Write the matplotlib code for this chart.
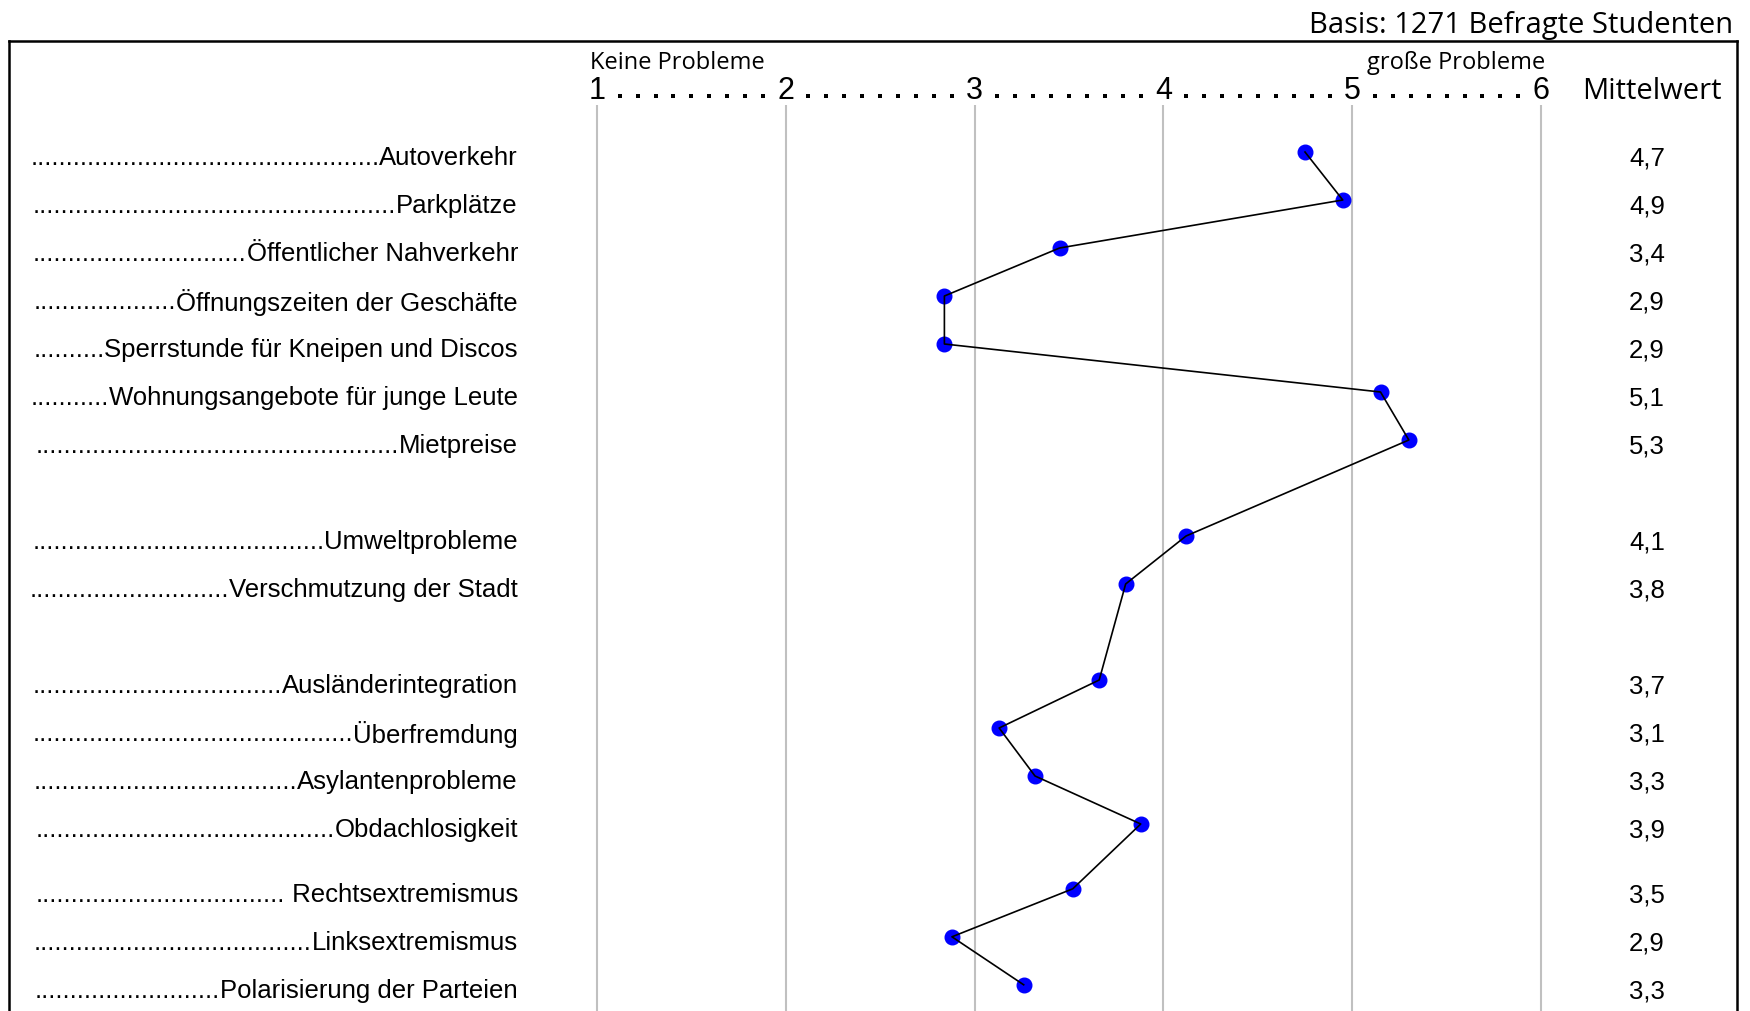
import matplotlib.pyplot as plt
from matplotlib.lines import Line2D

# problem areas and their mean rating (1 = keine Probleme, 6 = große Probleme)
themen = ['Autoverkehr', 'Parkplätze', 'Öffentlicher Nahverkehr',
          'Öffnungszeiten der Geschäfte', 'Sperrstunde für Kneipen und Discos',
          'Wohnungsangebote für junge Leute', 'Mietpreise',
          'Umweltprobleme', 'Verschmutzung der Stadt',
          'Ausländerintegration', 'Überfremdung', 'Asylantenprobleme',
          'Obdachlosigkeit',
          ' Rechtsextremismus', 'Linksextremismus', 'Polarisierung der Parteien']
mittelwert = [4.75, 4.95, 3.45, 2.84, 2.84, 5.15, 5.30,
              4.12, 3.80,
              3.66, 3.13, 3.32, 3.88,
              3.52, 2.88, 3.26]
mittelwert_text = ['4,7', '4,9', '3,4', '2,9', '2,9', '5,1', '5,3',
                   '4,1', '3,8',
                   '3,7', '3,1', '3,3', '3,9',
                   '3,5', '2,9', '3,3']
skala = [1, 2, 3, 4, 5, 6]

# layout: row positions (groups separated by gaps)
zeilen = [0, 1, 2, 3, 4, 5, 6, 8, 9, 11, 12, 13, 14, 15.35, 16.35, 17.35]

W, H = 1750, 1012
x_px1, x_unit = 597, 188.8      # pixel of value 1, pixels per scale unit
y_px0, y_unit = 153, 48         # pixel of row 0, pixels per row


def px2x(px):
    return 1 + (px - x_px1) / x_unit


def px2y(py):
    return (py - y_px0) / y_unit


fig = plt.figure(figsize=(W / 100, H / 100), dpi=100)
ax = fig.add_axes([0, 0, 1, 1])
ax.set_xlim(px2x(0), px2x(W))
ax.set_ylim(px2y(H), px2y(0))
ax.axis('off')

hfont = ['Open Sans', 'DejaVu Sans']
lfont = ['Liberation Sans', 'DejaVu Sans']

# frame (open at the bottom)
lw_frame = 1.8
fig.add_artist(Line2D([9 / W, 9 / W], [0, 1 - 42 / H], color='black', lw=lw_frame))
fig.add_artist(Line2D([1737 / W, 1737 / W], [0, 1 - 42 / H], color='black', lw=lw_frame))
fig.add_artist(Line2D([9 / W, 1737 / W], [1 - 42 / H, 1 - 42 / H], color='black', lw=lw_frame))

# grid lines
ax.vlines(skala, px2y(106), px2y(H), color='#c0c0c0', lw=1.5, zorder=1)

# scale header: numbers with dotted leaders
for v in skala:
    ax.text(v, px2y(99), str(v), ha='center', va='baseline',
            fontsize=22, family=lfont)
    if v < skala[-1]:
        dx = [v + 0.12 + k * 0.095 for k in range(9)]
        ax.plot(dx, [px2y(97)] * 9, 's', ms=2.2, color='black', mew=0)

ax.text(px2x(590), px2y(69), 'Keine Probleme', ha='left', va='baseline',
        fontsize=17, family=hfont)
ax.text(px2x(1545), px2y(69), 'große Probleme', ha='right', va='baseline',
        fontsize=17, family=hfont)
ax.text(px2x(1652), px2y(99), 'Mittelwert', ha='center', va='baseline',
        fontsize=21, family=hfont)
ax.text(px2x(1733), px2y(33), 'Basis: 1271 Befragte Studenten', ha='right',
        va='baseline', fontsize=21, family=hfont)

# row labels with dot leaders
r = fig.canvas.get_renderer()
probe = ax.text(0, 0, '.' * 40, fontsize=18.5, family=lfont)
dot_w = probe.get_window_extent(r).width / 40
probe.remove()

for name, y, txt in zip(themen, zeilen, mittelwert_text):
    yt = y + 0.11
    t = ax.text(px2x(518), yt, name, ha='right', va='center',
                fontsize=18.5, family=lfont)
    bb = t.get_window_extent(r)
    n = int((bb.x0 - 29) / dot_w)
    ax.text(px2x(bb.x0), yt, '.' * n, ha='right', va='center',
            fontsize=18.5, family=lfont)
    ax.text(px2x(1647), yt, txt, ha='center', va='center',
            fontsize=18.5, family=lfont)

# profile line
ax.plot(mittelwert, zeilen, 'o', color='#0000ff', ms=10.5, zorder=2)
ax.plot(mittelwert, zeilen, color='black', lw=1.2, zorder=3)

fig.savefig('out.png', dpi=100)
